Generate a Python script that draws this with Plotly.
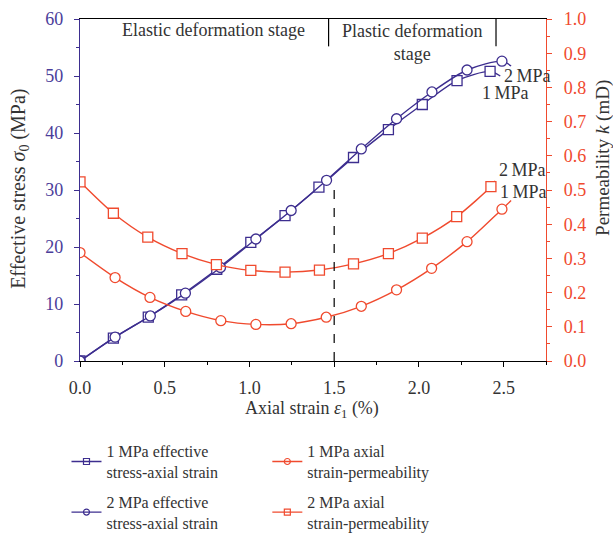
import plotly.graph_objects as go

# ---------------- data ----------------
# Effective stress vs axial strain (left axis)
s1_x = [0, 0.197, 0.403, 0.60, 0.807, 1.008, 1.21, 1.41, 1.614, 1.82, 2.02, 2.225, 2.42]
s1_y = [0, 4.0, 7.7, 11.6, 16.1, 20.8, 25.5, 30.5, 35.7, 40.6, 45.0, 49.2, 50.8]
s1_end = (2.48, 50.0)

s2_x = [0, 0.207, 0.415, 0.622, 0.829, 1.038, 1.246, 1.455, 1.66, 1.868, 2.077, 2.284, 2.49]
s2_y = [0, 4.2, 7.9, 11.9, 16.4, 21.4, 26.4, 31.7, 37.2, 42.5, 47.2, 51.05, 52.6]
s2_end = (2.544, 51.75)

# Permeability vs axial strain (right axis)
k1_x = [0, 0.207, 0.413, 0.624, 0.831, 1.038, 1.246, 1.453, 1.66, 1.868, 2.075, 2.284, 2.49]
k1_y = [0.317, 0.244, 0.186, 0.145, 0.118, 0.107, 0.109, 0.128, 0.16, 0.208, 0.271, 0.349, 0.444]
k1_end = (2.544, 0.469)

k2_x = [0, 0.197, 0.40, 0.602, 0.805, 1.008, 1.21, 1.413, 1.614, 1.82, 2.02, 2.223, 2.425]
k2_y = [0.524, 0.432, 0.362, 0.314, 0.282, 0.265, 0.260, 0.266, 0.284, 0.314, 0.359, 0.422, 0.51]
k2_end = (2.45, 0.527)

legend_names = [
    "1 MPa effective<br>stress-axial strain",
    "1 MPa axial<br>strain-permeability",
    "2 MPa effective<br>stress-axial strain",
    "2 MPa axial<br>strain-permeability",
]

stage_boundary = 1.5        # dashed line position (strain %)
stage_boundary_top = 31.5   # top of dashed line (MPa)
stage_divider = 1.467
stage_right = 2.455
stage_box_bottom = 55.2

# ---------------- style ----------------
BLUE = "#3d2e8f"
RED = "#f04a2e"
FONT = "Liberation Serif"
TXT = "#333333"

fig = go.Figure()

# legend entries: left column (legend) = stress curves, right column (legend2) = permeability
leg = [
    (legend_names[0], BLUE, "square-open", "y", "legend", "g1"),
    (legend_names[2], BLUE, "circle-open", "y", "legend", "g2"),
    (legend_names[1], RED, "circle-open", "y2", "legend2", "g3"),
    (legend_names[3], RED, "square-open", "y2", "legend2", "g4"),
]
for name, col, sym, ax, lg, grp in leg:
    fig.add_trace(go.Scatter(
        x=[None], y=[None], name=name, mode="lines+markers", yaxis=ax,
        legend=lg, legendgroup=grp,
        line=dict(color=col, width=1.3),
        marker=dict(symbol=sym, size=6, color=col, line=dict(width=1.2, color=col)),
        showlegend=True,
    ))

def add_series(xs, ys, end, col, sym, ax):
    fig.add_trace(go.Scatter(
        x=xs + [end[0]], y=ys + [end[1]], mode="lines", yaxis=ax,
        line=dict(color=col, width=1.4, shape="spline", smoothing=0.8),
        showlegend=False, hoverinfo="skip",
    ))
    fig.add_trace(go.Scatter(
        x=xs, y=ys, mode="markers", yaxis=ax,
        marker=dict(symbol=sym, size=10, color="white", line=dict(width=1.3, color=col)),
        showlegend=False,
    ))

add_series(s1_x, s1_y, s1_end, BLUE, "square", "y")
add_series(s2_x, s2_y, s2_end, BLUE, "circle", "y")
add_series(k1_x, k1_y, k1_end, RED, "circle", "y2")
add_series(k2_x, k2_y, k2_end, RED, "square", "y2")

# dashed stage boundary
fig.add_shape(type="line", xref="x", yref="y", x0=stage_boundary, x1=stage_boundary,
              y0=0, y1=stage_boundary_top, line=dict(color="black", width=1.2, dash="dash"))
# stage box dividers
for xv in (stage_divider, stage_right):
    fig.add_shape(type="line", xref="x", yref="y", x0=xv, x1=xv,
                  y0=stage_box_bottom, y1=60, line=dict(color="black", width=1.2))

def ann(**kw):
    kw.setdefault("xanchor", "center")
    kw.setdefault("yanchor", "middle")
    fig.add_annotation(showarrow=False, **kw)

ann_font = dict(family=FONT, size=18, color=TXT)
ann(x=0.786, y=58.1, xref="x", yref="y", text="Elastic deformation stage", font=ann_font)
ann(x=1.96, y=55.8, xref="x", yref="y", text="Plastic deformation<br>stage", font=ann_font)

lab_font = dict(family=FONT, size=18, color=TXT)
ann(x=2.493, y=50.0, xref="x", yref="y", text="2\u2009MPa", font=lab_font, xanchor="left")
ann(x=2.363, y=47.0, xref="x", yref="y", text="1\u2009MPa", font=lab_font, xanchor="left")
ann(x=2.463, y=0.558, xref="x", yref="y2", text="2\u2009MPa", font=lab_font, xanchor="left")
ann(x=2.469, y=0.494, xref="x", yref="y2", text="1\u2009MPa", font=lab_font, xanchor="left")

# axis titles
ann(x=-0.129, y=0.503, xref="paper", yref="paper", textangle=-90,
    text="Effective stress <i>σ</i><sub>0</sub> (MPa)", font=dict(family=FONT, size=20, color=TXT))
ann(x=1.1225, y=0.594, xref="paper", yref="paper", textangle=-90,
    text="Permeability <i>k</i> (mD)", font=dict(family=FONT, size=19, color=TXT))
ann(x=0.498, y=-0.143, xref="paper", yref="paper",
    text="Axial strain <i>ε</i><sub>1</sub> (%)", font=dict(family=FONT, size=18, color=TXT))

legend_common = dict(
    orientation="v", yanchor="top", xanchor="left",
    font=dict(family=FONT, size=16, color=TXT),
    bgcolor="rgba(0,0,0,0)", itemwidth=30, tracegroupgap=6,
)

fig.update_layout(
    width=613, height=536,
    margin=dict(l=80, r=67, t=19, b=175, autoexpand=False),
    plot_bgcolor="white", paper_bgcolor="white",
    font=dict(family=FONT, color=TXT, size=15),
    xaxis=dict(
        range=[0, 2.75], dtick=0.5, tickformat=".1f", automargin=False,
        showgrid=False, zeroline=False,
        showline=True, linecolor="black", linewidth=1.2, mirror=True,
        ticks="outside", ticklen=5, tickcolor="black", ticklabelstandoff=5,
        minor=dict(dtick=0.25, ticks="outside", ticklen=3, tickcolor="black"),
        tickfont=dict(family=FONT, size=18, color=TXT),
    ),
    yaxis=dict(
        range=[0, 60], dtick=10, automargin=False,
        showgrid=False, zeroline=False,
        showline=True, linecolor=BLUE, linewidth=1.4,
        ticks="outside", ticklen=5, tickcolor=BLUE, ticklabelstandoff=7,
        minor=dict(dtick=5, ticks="outside", ticklen=3, tickcolor=BLUE),
        tickfont=dict(family=FONT, size=18, color="#4b3d9a"),
    ),
    yaxis2=dict(
        range=[0, 1.0], dtick=0.1, tickformat=".1f", automargin=False,
        overlaying="y", side="right",
        showgrid=False, zeroline=False,
        showline=True, linecolor=RED, linewidth=1.4,
        ticks="outside", ticklen=5, tickcolor=RED, ticklabelstandoff=8,
        minor=dict(dtick=0.05, ticks="outside", ticklen=3, tickcolor=RED),
        tickfont=dict(family=FONT, size=18, color=RED),
    ),
    legend=dict(x=-0.029, y=-0.214, **legend_common),
    legend2=dict(x=0.402, y=-0.214, **legend_common),
)

fig.write_html(
    "out.html",
    config={"displayModeBar": False},
    post_script="document.body.style.margin='0';document.body.style.overflow='hidden';",
)
